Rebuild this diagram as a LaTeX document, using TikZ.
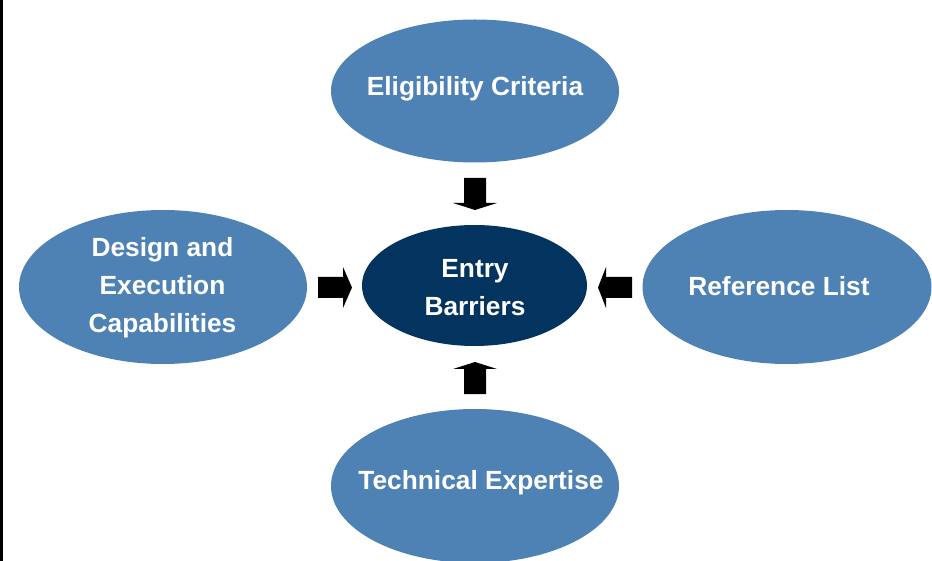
\documentclass[tikz,border=0pt]{standalone}
\usepackage{fontspec}
\setmainfont{Liberation Sans}
\usetikzlibrary{shapes.geometric}
\definecolor{lightblob}{HTML}{4E82B4}
\definecolor{darkblob}{HTML}{03335F}
\tikzset{
  blob/.style={ellipse, fill=lightblob, draw=none, inner sep=0pt},
  coreblob/.style={ellipse, fill=darkblob, draw=none, inner sep=0pt},
  lbl/.style={text=white, font=\fontsize{26.3}{38}\selectfont\bfseries, align=center, inner sep=0pt},
  blockarrow/.style={fill=black, draw=none}
}
\begin{document}
\begin{tikzpicture}[x=1pt,y=-1pt]
\path[use as bounding box] (0,0) rectangle (932,561);
\fill[black] (0,0) rectangle (2.5,561);
% ellipses
\node[blob, minimum width=288pt, minimum height=143pt] (topE) at (475,91) {};
\node[blob, minimum width=288pt, minimum height=154pt] (leftE) at (163,287) {};
\node[blob, minimum width=289pt, minimum height=154pt] (rightE) at (787,287) {};
\node[blob, minimum width=288pt, minimum height=154pt] (botE) at (475,486) {};
\node[coreblob, minimum width=225pt, minimum height=121pt] (core) at (474.5,285.5) {};
% labels
\node[lbl, anchor=base] (topT) at (475,96) {Eligibility Criteria};
\node[lbl, anchor=base] (rightT) at (779,296) {Reference List};
\node[lbl, anchor=base] (botT) at (481,489) {Technical Expertise};
\node[lbl, anchor=center] (leftT) at (162.5,288) {Design and\\Execution\\Capabilities};
\node[lbl, anchor=center] (coreT) at (475,288) {Entry\\Barriers};
% block arrows
\fill[blockarrow] (464,178) -- (486,178) -- (486,203) -- (497,203) -- (475,210) -- (453,203) -- (464,203) -- cycle;
\fill[blockarrow] (464,394) -- (486,394) -- (486,369) -- (497,369) -- (475,362) -- (453,369) -- (464,369) -- cycle;
\fill[blockarrow] (318,277) -- (343,277) -- (343,267) -- (352,287.5) -- (343,308) -- (343,298) -- (318,298) -- cycle;
\fill[blockarrow] (632,277) -- (606,277) -- (606,267) -- (598,287.5) -- (606,308) -- (606,298) -- (632,298) -- cycle;
\end{tikzpicture}
\end{document}
